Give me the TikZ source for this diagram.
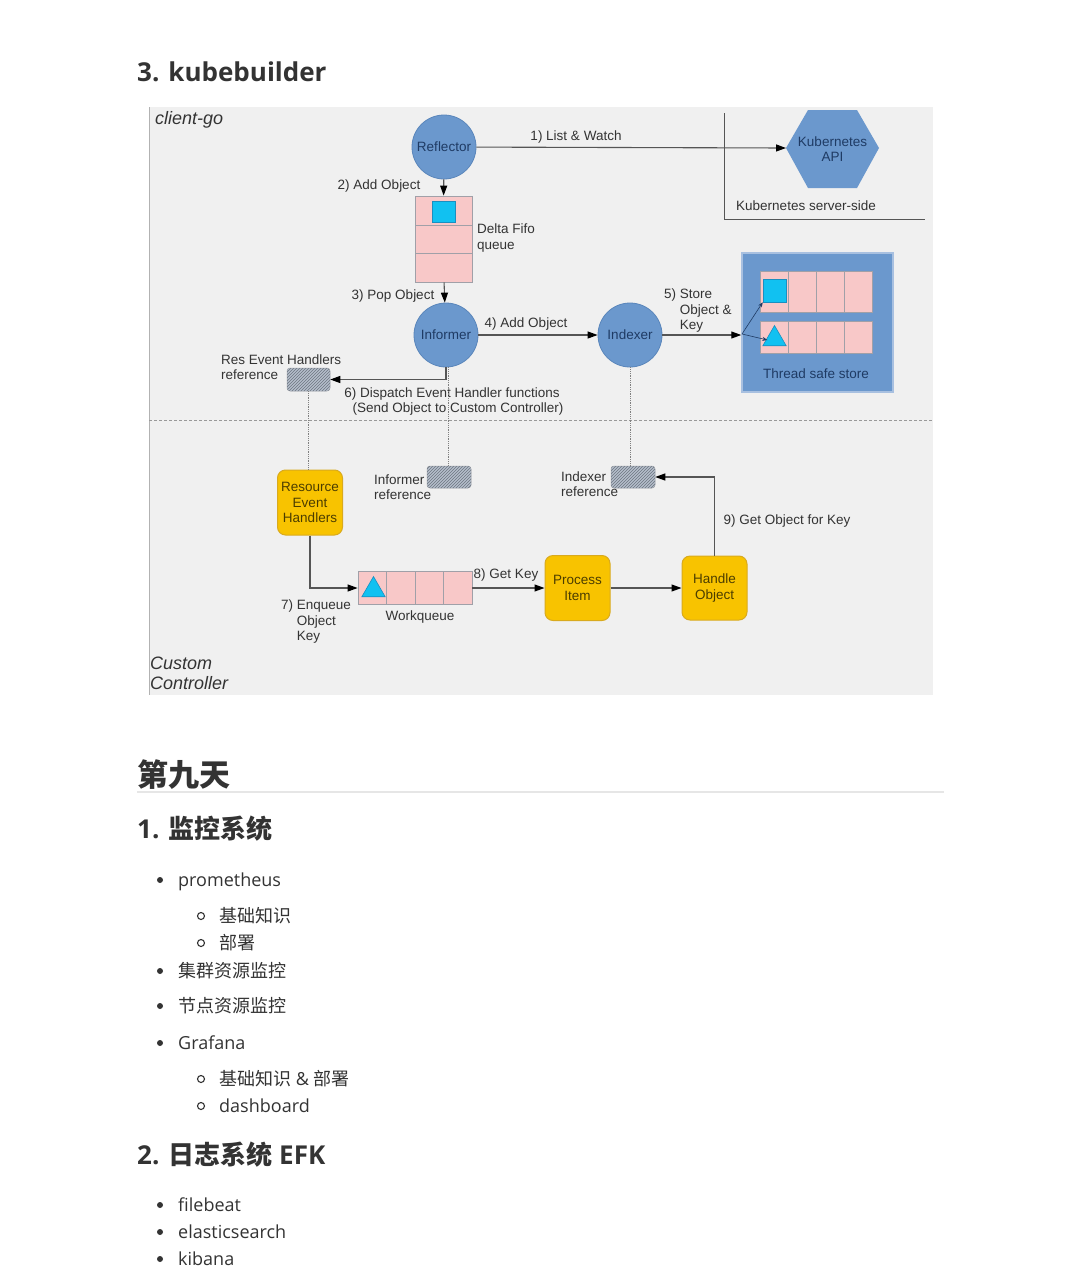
\documentclass[tikz,border=0pt]{standalone}
\usepackage{fontspec}
\setmainfont{Open Sans}
\newfontfamily\dg{Liberation Sans}
\newfontfamily\cjk{Noto Sans CJK SC}
\usetikzlibrary{arrows.meta,shapes.geometric,patterns,calc}
\definecolor{bg}{HTML}{F0F0F0}
\definecolor{circf}{HTML}{6B98CD}
\definecolor{circd}{HTML}{5A86BB}
\definecolor{navy}{HTML}{1F3B64}
\definecolor{pinkc}{HTML}{F8C8C8}
\definecolor{cellb}{HTML}{A0A0A8}
\definecolor{cyanc}{HTML}{11C1F1}
\definecolor{cyand}{HTML}{1A8FC0}
\definecolor{yel}{HTML}{F8C300}
\definecolor{yeld}{HTML}{D9AA1E}
\definecolor{yelt}{HTML}{4B3D00}
\definecolor{storeb}{HTML}{A8C0E0}
\definecolor{hatchf}{HTML}{B5BFCC}
\definecolor{hatchl}{HTML}{6D7580}
\definecolor{txt}{HTML}{333333}
\definecolor{linec}{HTML}{555555}
\definecolor{pgtxt}{HTML}{333333}
\definecolor{rulec}{HTML}{E6E6E6}
\tikzset{
  lbl/.style={font=\dg\fontsize{13.5pt}{15.5pt}\selectfont, text=txt, inner sep=0pt},
  circnode/.style={circle, minimum size=64pt, inner sep=0pt, fill=circf, draw=circd, line width=0.8pt,
     font=\dg\fontsize{13.5pt}{15.5pt}\selectfont, text=navy},
  hexlbl/.style={inner sep=0pt, font=\dg\fontsize{13.5pt}{15.5pt}\selectfont, text=navy, align=center},
  cell/.style={rectangle, fill=pinkc, draw=cellb, line width=0.8pt, inner sep=0pt},
  sqr/.style={rectangle, fill=cyanc, draw=cyand, line width=0.6pt, inner sep=0pt},
  tri/.style={regular polygon, regular polygon sides=3, minimum size=27pt, inner sep=0pt, fill=cyanc, draw=cyand, line width=0.6pt},
  ybox/.style={rectangle, rounded corners=8pt, fill=yel, draw=yeld, line width=1pt, minimum width=65pt, minimum height=64pt,
     inner sep=0pt, align=center, font=\dg\fontsize{13.5pt}{15.5pt}\selectfont, text=yelt},
  hatchbox/.style={rectangle, rounded corners=3pt, fill=hatchf, draw=hatchl!70, line width=0.5pt,
     minimum width=44pt, minimum height=22pt, inner sep=0pt,
     postaction={pattern=north east lines, pattern color=hatchl}},
  arr/.style={draw=linec, line width=1.1pt, -{Triangle[length=10pt,width=7pt,color=black]}},
  thinarr/.style={draw=navy, line width=0.6pt, -{Stealth[length=5pt,width=4pt]}},
  dotline/.style={draw=gray, line width=0.8pt, densely dotted},
  pg/.style={font=\fontsize{18pt}{22pt}\selectfont, text=pgtxt, anchor=base west, inner sep=0pt},
  hd/.style={font=\bfseries\fontsize{26pt}{30pt}\selectfont, text=pgtxt, anchor=base west, inner sep=0pt},
  bdot/.style={circle, fill=pgtxt, minimum size=6pt, inner sep=0pt},
  odot/.style={circle, draw=pgtxt, line width=1.1pt, minimum size=7pt, inner sep=0pt},
}
\begin{document}
\begin{tikzpicture}[x=1pt,y=-1pt]
\useasboundingbox (0,0) rectangle (1080,1274);
\fill[white] (0,0) rectangle (1080,1274);

% ---------- heading ----------
\node[hd] (h3) at (137,81) {3. kubebuilder};

% ---------- diagram background ----------
\fill[bg] (149,107) rectangle (933,695);
\draw[draw=gray!60, line width=0.6pt] (149.5,107) -- (149.5,695);
\draw[draw=gray!80, line width=0.8pt, densely dashed] (149,420) -- (933,420);

\node[lbl, anchor=west, font=\dg\itshape\fontsize{18pt}{20pt}\selectfont] (clientgo) at (155,120) {client-go};
\node[lbl, anchor=west, align=left, font=\dg\itshape\fontsize{18pt}{20pt}\selectfont] (custom) at (150,673) {Custom\\Controller};

% server side corner
\draw[draw=linec, line width=0.9pt] (724,113) -- (724,219) -- (925,219);
\node[lbl] (ssl) at (806,206) {Kubernetes server-side};

% circles
\node[circnode] (refl) at (444,147) {Reflector};
\fill[circf] (786,148) -- (808,110) -- (857,110) -- (879,148) -- (857,188) -- (808,188) -- cycle;
\node[hexlbl] (api) at (832.5,149) {Kubernetes\\API};
\coordinate (apiL) at (786,148);
\node[circnode] (inf) at (446,335) {Informer};
\node[circnode] (idx) at (630,335) {Indexer};

% delta fifo
\node[cell, minimum width=57pt, minimum height=29pt] (f1) at (443.5,210.5) {};
\node[cell, minimum width=57pt, minimum height=28pt] (f2) at (443.5,239) {};
\node[cell, minimum width=57pt, minimum height=29pt] (f3) at (443.5,267.5) {};
\node[sqr, minimum width=23pt, minimum height=21pt] (fsq) at (443.5,211.5) {};
\node[lbl, anchor=west, align=left] (fifol) at (477,238) {Delta Fifo\\queue};

% store
\node[rectangle, fill=circf, draw=storeb, line width=1.5pt, minimum width=151pt, minimum height=139pt, inner sep=0pt] (store) at (817.5,322.5) {};
\node[cell, minimum width=28pt, minimum height=41pt] (s11) at (774,291.5) {};
\node[cell, minimum width=28pt, minimum height=41pt] (s12) at (802,291.5) {};
\node[cell, minimum width=28pt, minimum height=41pt] (s13) at (830,291.5) {};
\node[cell, minimum width=28pt, minimum height=41pt] (s14) at (858,291.5) {};
\node[cell, minimum width=28pt, minimum height=32pt] (s21) at (774,337) {};
\node[cell, minimum width=28pt, minimum height=32pt] (s22) at (802,337) {};
\node[cell, minimum width=28pt, minimum height=32pt] (s23) at (830,337) {};
\node[cell, minimum width=28pt, minimum height=32pt] (s24) at (858,337) {};
\node[sqr, minimum width=23pt, minimum height=23pt] (ssq) at (774.5,290.5) {};
\node[tri] (stri) at (774.5,339) {};
\node[lbl, text=navy] (storel) at (816,374) {Thread safe store};
\coordinate (sp) at (742,334);
\draw[thinarr] (sp) -- (ssq.south west);
\draw[thinarr] (sp) -- ($(stri.west)+(1,1)$);

% hatched references
\node[hatchbox, minimum width=43pt, minimum height=23pt] (hr1) at (308.5,379.5) {};
\node[hatchbox] (hr2) at (449,477) {};
\node[hatchbox] (hr3) at (633,477) {};

% yellow boxes
\node[ybox, minimum height=65pt] (reh) at (310,502.5) {Resource\\Event\\Handlers};
\node[ybox, minimum height=65pt] (pi) at (577.5,588) {Process\\Item};
\node[ybox] (ho) at (714.5,588) {Handle\\Object};

% workqueue
\node[cell, minimum width=28.5pt, minimum height=33pt] (w1) at (372.25,588) {};
\node[cell, minimum width=28.5pt, minimum height=33pt] (w2) at (400.75,588) {};
\node[cell, minimum width=28.5pt, minimum height=33pt] (w3) at (429.25,588) {};
\node[cell, minimum width=28.5pt, minimum height=33pt] (w4) at (457.75,588) {};
\node[tri] (wtri) at (373.5,590) {};
\node[lbl] (wql) at (420,617) {Workqueue};

% labels
\node[lbl] (l1) at (576,137) {1) List \& Watch};
\node[lbl] (l2) at (379,186) {2) Add Object};
\node[lbl] (l3) at (393,296) {3) Pop Object};
\node[lbl] (l4) at (526,324) {4) Add Object};
\node[lbl, anchor=north west, align=left] (l5) at (664,289) {5) Store\\\phantom{5) }Object \&\\\phantom{5) }Key};
\node[lbl, anchor=west, align=left] (resl) at (221,367) {Res Event Handlers\\reference};
\node[lbl, align=center] (l6) at (452,401.5) {6) Dispatch Event Handler functions\\\hspace*{12pt}(Send Object to Custom Controller)};
\node[lbl, anchor=west, align=left] (infl) at (374,487) {Informer\\reference};
\node[lbl, anchor=west, align=left] (idxl) at (561,484) {Indexer\\reference};
\node[lbl] (l9) at (787,521) {9) Get Object for Key};
\node[lbl] (l8) at (506,575) {8) Get Key};
\node[lbl, anchor=north west, align=left] (l7) at (281,600) {7) Enqueue\\\phantom{7) }Object\\\phantom{7) }Key};

% connectors
\draw[arr] (refl) -- (apiL);
\draw[arr] (refl) -- (f1);
\draw[arr] (f3) -- (inf);
\draw[arr] (inf) -- (idx);
\draw[arr] (idx) -- (store.west |- idx);
\draw[arr] (inf.south) |- (hr1.east);
\draw[dotline] ($(inf.south)+(2,0)$) -- ($(inf.south |- hr2.north)+(2,0)$);
\draw[dotline] (hr1.south) -- (hr1.south |- reh.north);
\draw[dotline] (idx.south) -- (idx.south |- hr3.north);
\draw[arr] (ho.north) |- (hr3.east);
\draw[arr] (reh.south) |- (w1.west);
\draw[arr] (w4.east) -- (pi.west |- w4.east);
\draw[arr] (pi) -- (ho);

% ---------- page text ----------
\node[hd, font=\cjk\bfseries\fontsize{31pt}{34pt}\selectfont] (day9) at (137,786) {第九天};
\coordinate (ruleA) at (137,792);
\coordinate (ruleB) at (944,792);
\draw[draw=rulec, line width=1.6pt] (ruleA) -- (ruleB);
\node[hd] (sec1) at (137,838) {1. {\cjk\bfseries 监控系统}};

\node[bdot] (b1) at (160,880) {};
\node[pg] (t1) at (178,886) {prometheus};
\node[odot] (o1) at (201,916) {};
\node[pg] (t2) at (219,922) {\cjk 基础知识};
\node[odot] (o2) at (201,943) {};
\node[pg] (t3) at (219,949) {\cjk 部署};
\node[bdot] (b2) at (160,971) {};
\node[pg] (t4) at (178,977) {\cjk 集群资源监控};
\node[bdot] (b3) at (160,1006) {};
\node[pg] (t5) at (178,1012) {\cjk 节点资源监控};
\node[bdot] (b4) at (160,1043) {};
\node[pg] (t6) at (178,1049) {Grafana};
\node[odot] (o3) at (201,1079) {};
\node[pg] (t7) at (219,1085) {{\cjk 基础知识} \& {\cjk 部署}};
\node[odot] (o4) at (201,1106) {};
\node[pg] (t8) at (219,1112) {dashboard};

\node[hd] (sec2) at (137,1164) {2. {\cjk\bfseries 日志系统} EFK};
\node[bdot] (b5) at (160,1205) {};
\node[pg] (t9) at (178,1211) {filebeat};
\node[bdot] (b6) at (160,1232) {};
\node[pg] (t10) at (178,1238) {elasticsearch};
\node[bdot] (b7) at (160,1259) {};
\node[pg] (t11) at (178,1265) {kibana};
\end{tikzpicture}
\end{document}
